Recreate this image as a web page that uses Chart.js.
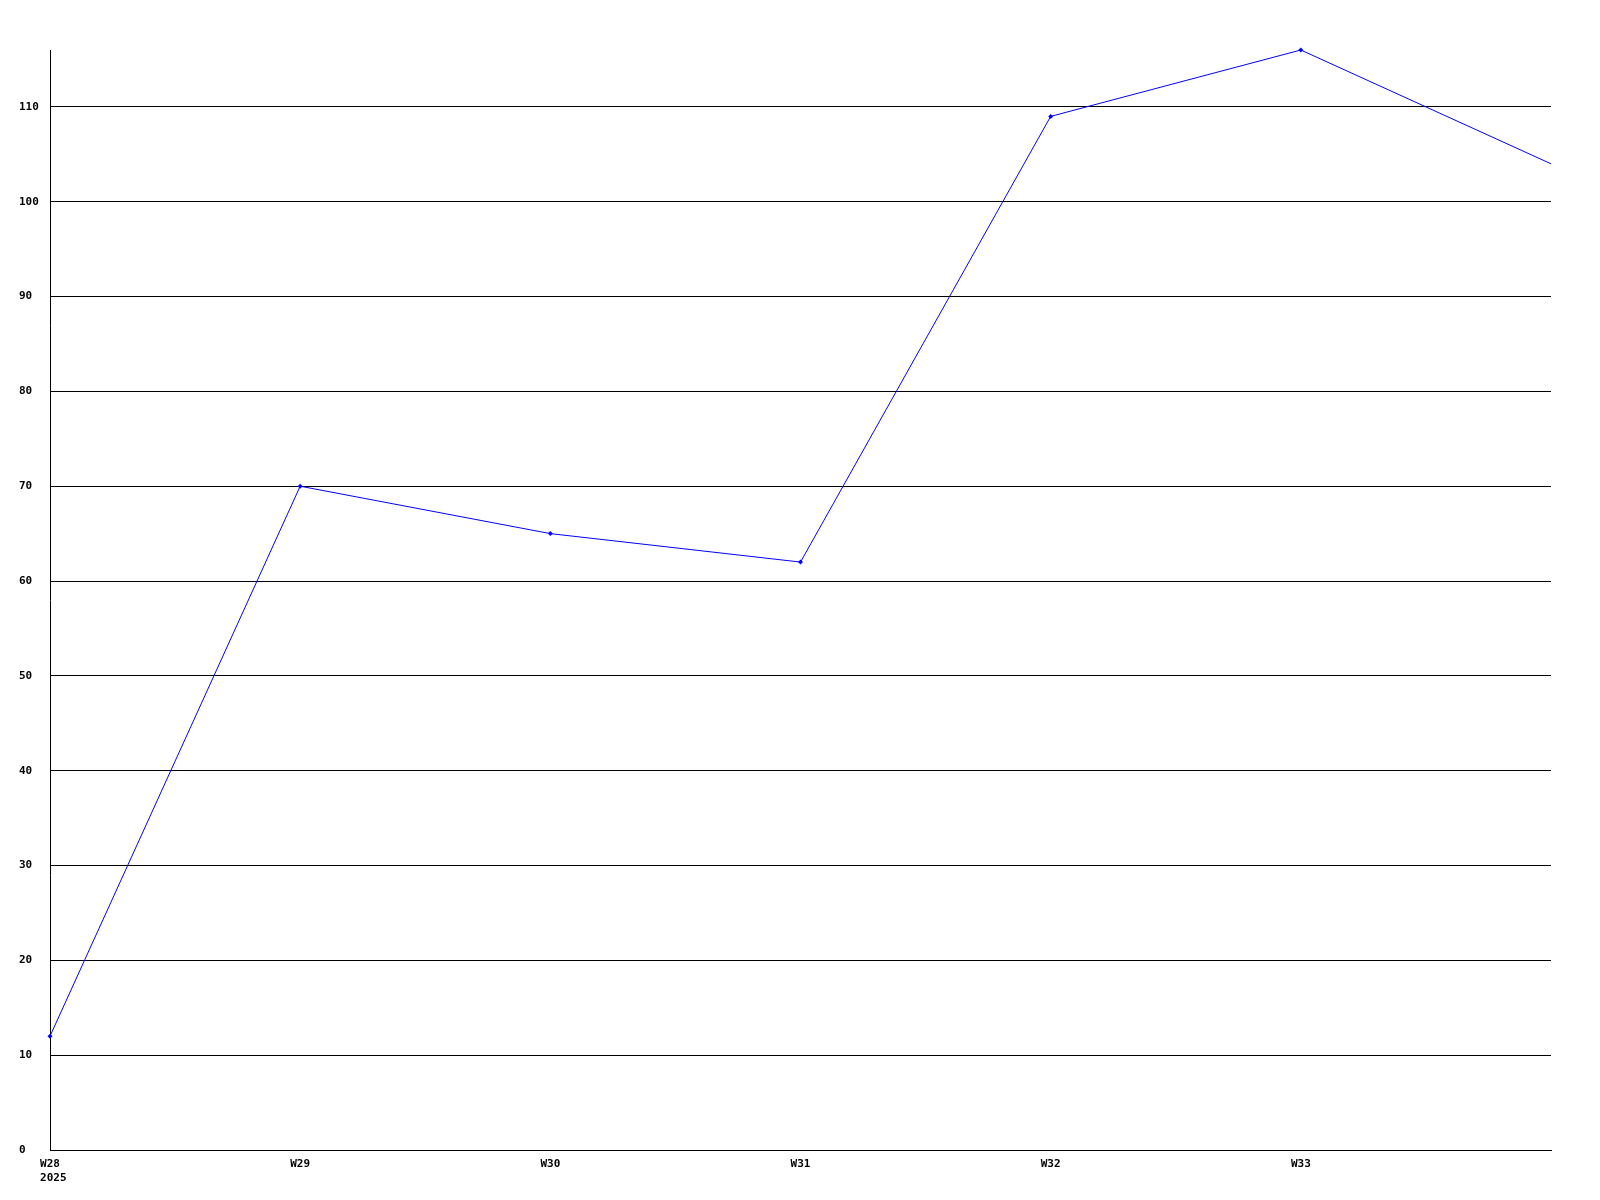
<!DOCTYPE html>
<html>
<head>
<meta charset="utf-8">
<script src="https://cdn.jsdelivr.net/npm/chart.js@4/dist/chart.umd.min.js"></script>
<style>
  html, body { margin: 0; padding: 0; background: #fff; }
  canvas { display: block; }
</style>
</head>
<body>
<canvas id="weekChart" width="1600" height="1200"></canvas>
<script>
const weekLabels = ['W28', 'W29', 'W30', 'W31', 'W32', 'W33', 'W34'];
const yearLabel = '2025';
const weekValues = [12, 70, 65, 62, 109, 116, 104];
const yMin = 0;
const yMax = 116;
const yStep = 10;

const tickFont = { family: "'DejaVu Sans Mono', 'Liberation Mono', monospace", size: 11, weight: 'bold' };

function setupChart() {
  const canvas = document.getElementById('weekChart');
  const lastIndex = weekValues.length - 1;
  new Chart(canvas.getContext('2d'), {
    type: 'line',
    data: {
      labels: weekLabels,
      datasets: [{
        data: weekValues,
        borderColor: '#0000ff',
        backgroundColor: '#0000ff',
        borderWidth: 1,
        tension: 0,
        fill: false,
        clip: false,
        pointStyle: 'rectRot',
        pointRadius: ctx => (ctx.dataIndex === lastIndex ? 0 : 2.5),
        pointBorderWidth: 0,
        pointBackgroundColor: '#0000ff'
      }]
    },
    options: {
      responsive: false,
      animation: false,
      layout: { padding: { top: 50, right: 49, left: 19, bottom: 0 } },
      plugins: { legend: { display: false }, tooltip: { enabled: false } },
      scales: {
        x: {
          offset: false,
          grid: { drawOnChartArea: false, drawTicks: false },
          border: { display: true, color: '#000', width: 1 },
          afterFit: scale => { scale.height = 50; },
          ticks: {
            color: '#000',
            font: tickFont,
            padding: 8,
            maxRotation: 0,
            autoSkip: false,
            callback: (value, index) => {
              if (index === lastIndex) return '';
              // year line sits left-aligned under the first week label
              return index === 0 ? [weekLabels[index], ' ' + yearLabel] : weekLabels[index];
            }
          }
        },
        y: {
          min: yMin,
          max: yMax,
          grid: { color: '#000', lineWidth: 1, drawTicks: false },
          border: { display: true, color: '#000', width: 1 },
          afterFit: scale => { scale.width = 31; },
          ticks: {
            stepSize: yStep,
            includeBounds: false,
            crossAlign: 'far',
            color: '#000',
            font: tickFont,
            padding: 10
          }
        }
      }
    }
  });
}
document.addEventListener('DOMContentLoaded', setupChart);
</script>
</body>
</html>
